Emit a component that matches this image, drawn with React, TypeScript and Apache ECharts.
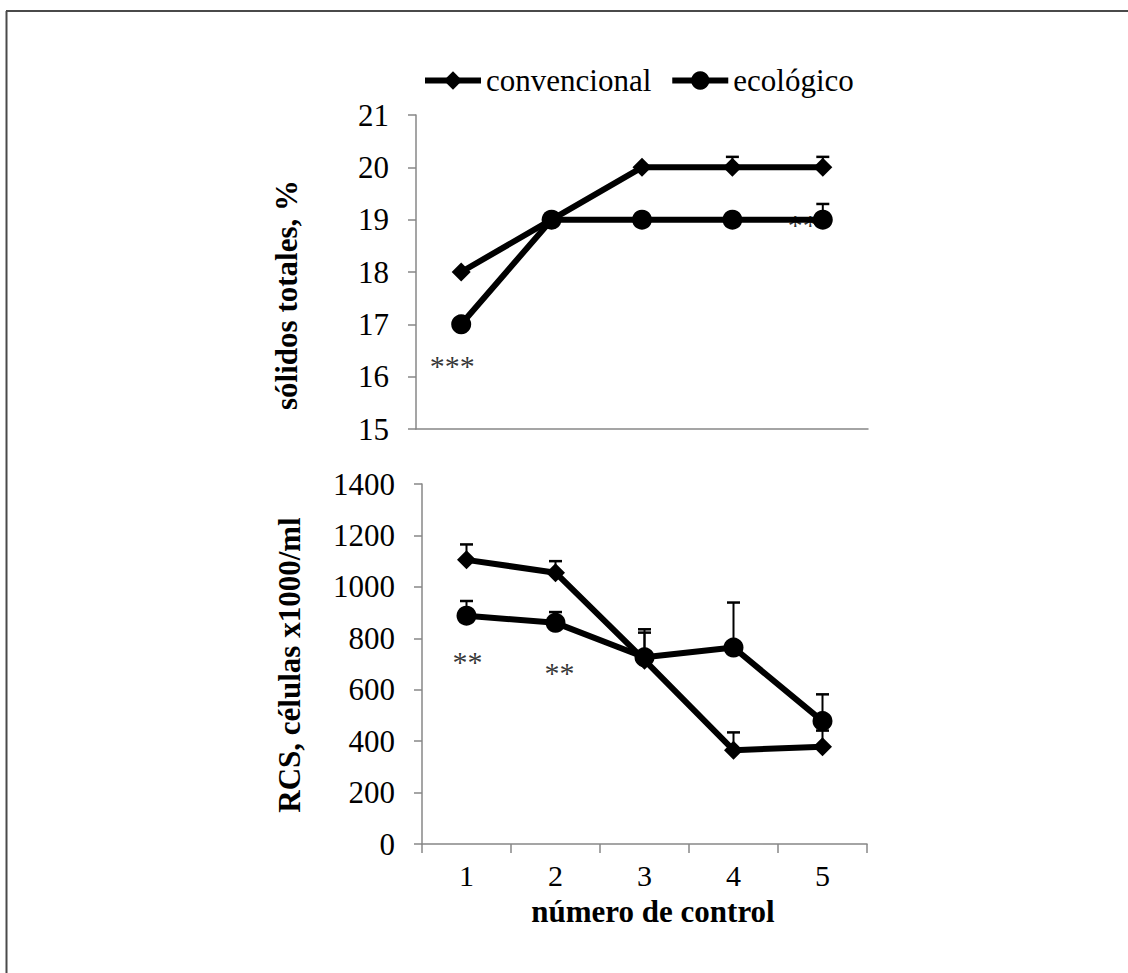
import React, { useEffect, useRef } from "react";
import * as echarts from "echarts";

// ---- data ----
const categories = ["1", "2", "3", "4", "5"];
const seriesNames = ["convencional", "ecológico"];

const solidosConv = [18, 19, 20, 20, 20];
const solidosEco = [17, 19, 19, 19, 19];
const solidosConvErr = [0, 0, 0, 0.2, 0.2];
const solidosEcoErr = [0, 0, 0, 0, 0.3];

const rcsConv = [1105, 1055, 715, 365, 378];
const rcsEco = [888, 860, 726, 764, 478];
const rcsConvErr = [60, 45, 120, 69, 63];
const rcsEcoErr = [57, 42, 96, 175, 104];

const solidosMin = 15;
const solidosMax = 21;
const solidosStep = 1;
const rcsMin = 0;
const rcsMax = 1400;
const rcsStep = 200;

// significance marks: [category index, value, text]
const solidosSig: [number, number, string][] = [
  [0, 16.3, "***"],
  [4, 19, "**"],
];
const rcsSig: [number, number, string][] = [
  [0, 727, "**"],
  [1, 677, "**"],
];

const titleTop = "sólidos totales, %";
const titleBottom = "RCS, células x1000/ml";
const titleX = "número de control";

const FONT = "Liberation Serif";
const AXIS_GRAY = "#878787";

function errData(vals: number[], errs: number[]) {
  return vals.map((v, i) => [i, v, v + errs[i]]);
}

function errorBarItem(params: any, api: any) {
  const x = api.value(0);
  const lo = api.value(1);
  const hi = api.value(2);
  if (!(hi > lo)) return { type: "group", children: [] };
  const p0 = api.coord([x, lo]);
  const p1 = api.coord([x, hi]);
  const hw = 6.5;
  return {
    type: "group",
    children: [
      {
        type: "line",
        shape: { x1: p0[0], y1: p0[1], x2: p1[0], y2: p1[1] },
        style: { stroke: "#000", lineWidth: 2 },
      },
      {
        type: "line",
        shape: { x1: p1[0] - hw, y1: p1[1], x2: p1[0] + hw, y2: p1[1] },
        style: { stroke: "#000", lineWidth: 2.5 },
      },
    ],
  };
}

function lineSeries(name: string, data: number[], idx: number, symbol: string, size: any) {
  return {
    name,
    type: "line",
    xAxisIndex: idx,
    yAxisIndex: idx,
    data,
    symbol,
    symbolSize: size,
    showSymbol: true,
    lineStyle: { color: "#000", width: 6 },
    itemStyle: { color: "#000" },
    z: 3,
    silent: true,
  };
}

function errSeries(vals: number[], errs: number[], idx: number) {
  return {
    type: "custom",
    xAxisIndex: idx,
    yAxisIndex: idx,
    renderItem: errorBarItem,
    data: errData(vals, errs),
    encode: { x: 0, y: [1, 2] },
    z: 2,
    silent: true,
  };
}

function sigSeries(data: [number, number, string][], idx: number, offsets: number[][]) {
  return {
    type: "scatter",
    xAxisIndex: idx,
    yAxisIndex: idx,
    symbolSize: 0,
    itemStyle: { color: "#000" },
    z: 1,
    silent: true,
    data: data.map((d, i) => ({
      value: [d[0], d[1], d[2]],
      label: { offset: offsets[i] },
    })),
    label: {
      show: true,
      position: "inside",
      formatter: (p: any) => p.value[2],
      fontFamily: FONT,
      fontSize: 30,
      color: "#000",
      textBorderWidth: 0,
    },
  };
}

function yAxis(idx: number, min: number, max: number, step: number) {
  return {
    type: "value",
    gridIndex: idx,
    min,
    max,
    interval: step,
    axisLine: { show: true, lineStyle: { color: AXIS_GRAY, width: 1.5 } },
    axisTick: { show: true, length: 8, lineStyle: { color: AXIS_GRAY, width: 1.5 } },
    splitLine: { show: false },
    axisLabel: {
      margin: 27,
      fontFamily: FONT,
      fontSize: 31,
      color: "#000",
      formatter: (v: number) => String(v),
    },
  };
}

export default function App() {
  const ref = useRef<HTMLDivElement>(null);
  useEffect(() => {
    if (!ref.current) return;
    const chart = echarts.init(ref.current, undefined, { renderer: "svg" });
    const option: any = {
      animation: false,
      backgroundColor: "#fff",
      textStyle: { fontFamily: FONT },
      legend: {
        left: 417,
        top: 60,
        itemWidth: 56,
        itemHeight: 23,
        itemGap: 18,
        data: seriesNames,
        lineStyle: { width: 6 },
        textStyle: { fontFamily: FONT, fontSize: 31, color: "#000" },
        selectedMode: false,
      },
      grid: [
        { left: 416, top: 115, width: 452, height: 314 },
        { left: 422, top: 484, width: 445, height: 360 },
      ],
      xAxis: [
        {
          type: "category",
          gridIndex: 0,
          data: categories,
          boundaryGap: true,
          axisLine: { show: true, lineStyle: { color: AXIS_GRAY, width: 1.5 } },
          axisTick: { show: false },
          axisLabel: { show: false },
        },
        {
          type: "category",
          gridIndex: 1,
          data: categories,
          boundaryGap: true,
          axisLine: { show: true, lineStyle: { color: AXIS_GRAY, width: 1.5 } },
          axisTick: { show: true, length: 9, interval: 0, lineStyle: { color: AXIS_GRAY, width: 1.5 } },
          axisLabel: { margin: 20, fontFamily: FONT, fontSize: 30, lineHeight: 22, color: "#000" },
        },
      ],
      yAxis: [
        yAxis(0, solidosMin, solidosMax, solidosStep),
        yAxis(1, rcsMin, rcsMax, rcsStep),
      ],
      series: [
        lineSeries(seriesNames[0], solidosConv, 0, "diamond", 19),
        lineSeries(seriesNames[1], solidosEco, 0, "circle", 20),
        errSeries(solidosConv, solidosConvErr, 0),
        errSeries(solidosEco, solidosEcoErr, 0),
        sigSeries(solidosSig, 0, [[-9, 5], [-20, 5]]),
        lineSeries(seriesNames[0], rcsConv, 1, "diamond", 19),
        lineSeries(seriesNames[1], rcsEco, 1, "circle", 20),
        errSeries(rcsConv, rcsConvErr, 1),
        errSeries(rcsEco, rcsEcoErr, 1),
        sigSeries(rcsSig, 1, [[1, 4], [4, 3]]),
      ],
      graphic: [
        {
          type: "line",
          shape: { x1: 6, y1: 11, x2: 1128, y2: 11 },
          style: { stroke: "#4a4a4a", lineWidth: 2 },
          silent: true,
        },
        {
          type: "line",
          shape: { x1: 6.5, y1: 11, x2: 6.5, y2: 973 },
          style: { stroke: "#4a4a4a", lineWidth: 2 },
          silent: true,
        },
        {
          type: "text",
          x: 286,
          y: 295,
          rotation: Math.PI / 2,
          style: {
            text: titleTop,
            font: `bold 31px ${FONT}`,
            fill: "#000",
            align: "center",
            verticalAlign: "middle",
            textAlign: "center",
            textVerticalAlign: "middle",
          },
          silent: true,
        },
        {
          type: "text",
          x: 289,
          y: 665,
          rotation: Math.PI / 2,
          style: {
            text: titleBottom,
            font: `bold 31px ${FONT}`,
            fill: "#000",
            align: "center",
            verticalAlign: "middle",
            textAlign: "center",
            textVerticalAlign: "middle",
          },
          silent: true,
        },
        {
          type: "text",
          x: 653,
          y: 911,
          style: {
            text: titleX,
            font: `bold 31px ${FONT}`,
            lineHeight: 22,
            fill: "#000",
            align: "center",
            verticalAlign: "middle",
            textAlign: "center",
            textVerticalAlign: "middle",
          },
          silent: true,
        },
      ],
    };
    chart.setOption(option);
    return () => chart.dispose();
  }, []);
  return (
    <div
      ref={ref}
      style={{ position: "absolute", left: 0, top: 0, width: 1128, height: 973, background: "#fff" }}
    />
  );
}
